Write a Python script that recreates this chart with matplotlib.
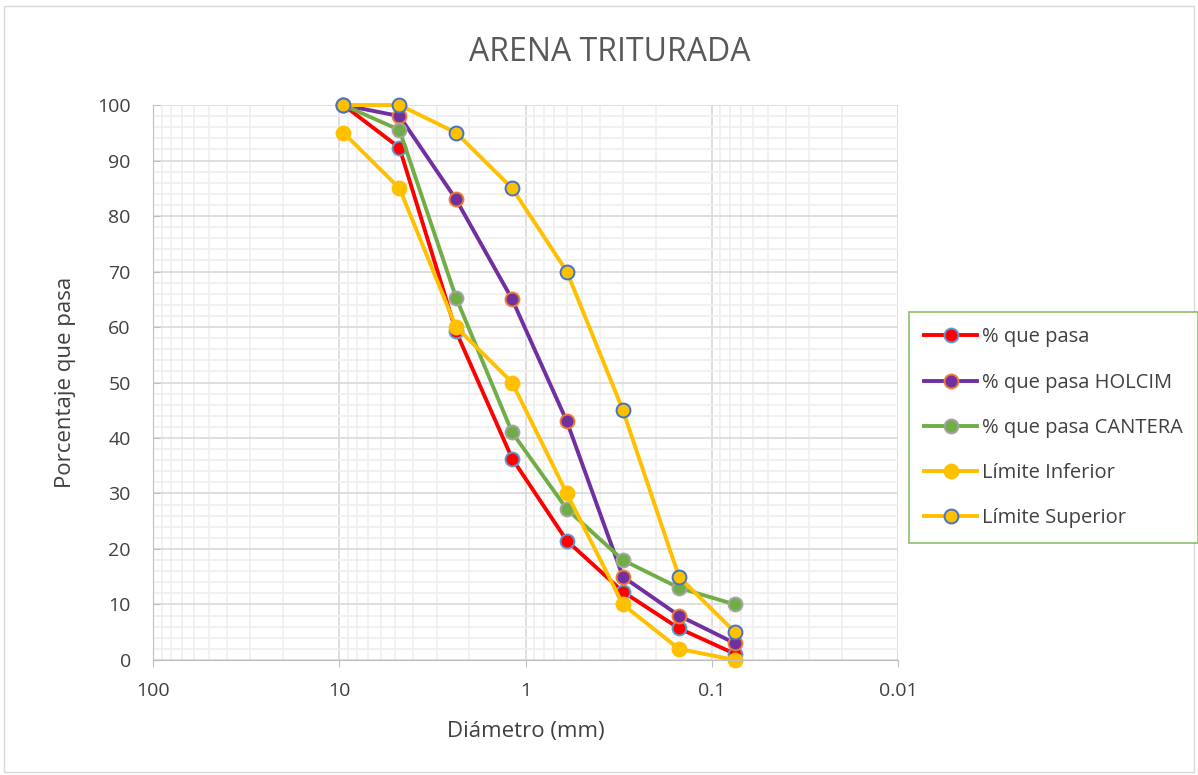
import matplotlib.pyplot as plt
from matplotlib.patches import Rectangle
from matplotlib.ticker import FixedLocator, NullFormatter

plt.rcParams['font.family'] = ['Open Sans', 'DejaVu Sans']

# sieve openings (mm)
diametro = [9.5, 4.75, 2.36, 1.18, 0.6, 0.3, 0.15, 0.075]

pasa = [100, 92.3, 59.2, 36.3, 21.5, 12.3, 5.7, 1.1]
pasa_holcim = [100, 98, 83, 65, 43, 15, 8, 3]
pasa_cantera = [100, 95.5, 65.3, 41, 27.2, 18, 13, 10]
lim_inferior = [95, 85, 60, 50, 30, 10, 2, 0]
lim_superior = [100, 100, 95, 85, 70, 45, 15, 5]

series = [
    (pasa, '% que pasa', '#FF0000', '#5B9BD5'),
    (pasa_holcim, '% que pasa HOLCIM', '#7030A0', '#ED7D31'),
    (pasa_cantera, '% que pasa CANTERA', '#70AD47', '#A5A5A5'),
    (lim_inferior, 'Límite Inferior', '#FFC000', '#FFC000'),
    (lim_superior, 'Límite Superior', '#FFC000', '#4472C4'),
]

fig = plt.figure(figsize=(11.98, 7.75), dpi=100)
fig.patches.append(Rectangle((0.003, 0.004), 0.994, 0.988, transform=fig.transFigure,
                             fill=False, edgecolor='#D9D9D9', linewidth=1))
ax = fig.add_axes([0.1277, 0.1484, 0.6219, 0.7161])

handles = []
for vals, lab, col, edge in series:
    h, = ax.plot(diametro, vals, color=col, linewidth=2.8, marker='o', markersize=10,
                 markerfacecolor=col, markeredgecolor=edge, markeredgewidth=1.4,
                 label=lab, clip_on=False)
    handles.append(h)

ax.set_xscale('log')
ax.set_xlim(100, 0.01)
ax.set_ylim(0, 100)
ax.set_xticks([100, 10, 1, 0.1, 0.01])
ax.set_xticklabels(['100', '10', '1', '0.1', '0.01'])
ax.xaxis.set_minor_locator(FixedLocator(
    [m * 10.0 ** e for e in range(-2, 2) for m in range(2, 10)]))
ax.xaxis.set_minor_formatter(NullFormatter())
ax.set_yticks(range(0, 101, 10))
ax.set_yticks(range(0, 101, 2), minor=True)

ax.grid(True, which='major', color='#D9D9D9', linewidth=1.2)
ax.grid(True, which='minor', color='#EFEFEF', linewidth=1.2)
ax.set_axisbelow(True)
ax.tick_params(which='minor', length=0)
ax.tick_params(axis='x', which='major', length=5, direction='out', color='#BFBFBF',
               labelsize=14, labelcolor='#404040', pad=11)
ax.tick_params(axis='y', which='major', length=5, direction='in', color='#BFBFBF',
               labelsize=14, labelcolor='#404040', pad=16)
for s in ['top', 'right']:
    ax.spines[s].set_visible(False)
for s in ['left', 'bottom']:
    ax.spines[s].set_color('#BFBFBF')

ax.set_xlabel('Diámetro (mm)', fontsize=16, color='#404040', labelpad=15)
ax.set_ylabel('Porcentaje que pasa', fontsize=16, color='#404040', labelpad=15)
fig.text(0.509, 0.932, 'ARENA TRITURADA', fontsize=23, color='#595959',
         ha='center', va='center')

leg = fig.legend(handles=handles, loc='upper left', bbox_to_anchor=(0.759, 0.597),
                 frameon=True, fancybox=False, fontsize=14.5, labelspacing=1.25,
                 handlelength=2.6, handletextpad=0.25, borderpad=0.75,
                 borderaxespad=0)
leg.get_frame().set_edgecolor('#70AD47')
leg.get_frame().set_linewidth(1.2)
for t in leg.get_texts():
    t.set_color('#404040')

fig.savefig('out.png', dpi=100)
